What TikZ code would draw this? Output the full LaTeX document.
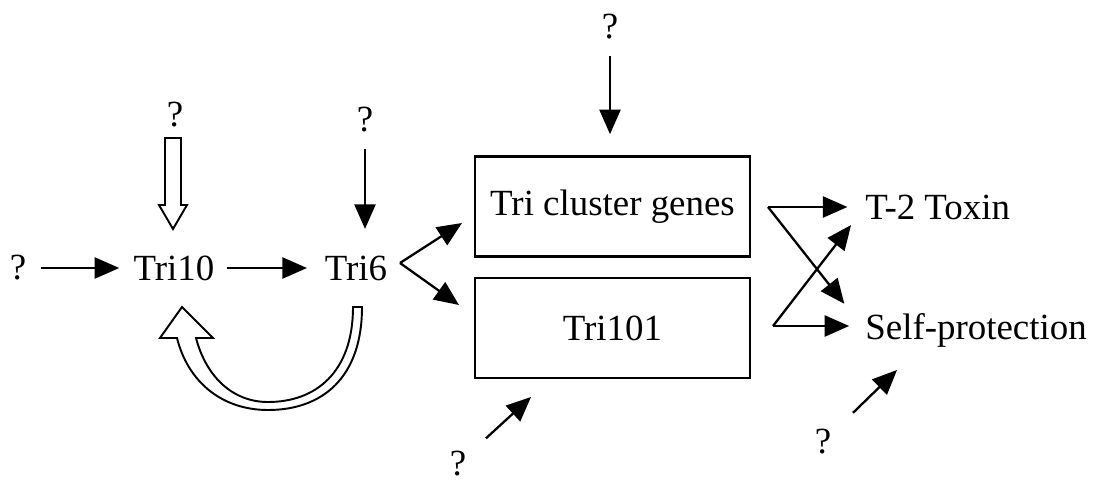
\documentclass[tikz,border=0pt]{standalone}
\usepackage{fontspec}
\setmainfont{Liberation Serif}
\usetikzlibrary{arrows.meta,calc}
\tikzset{
  lbl/.style={inner sep=0pt,font=\fontsize{21}{25}\selectfont},
  genebox/.style={draw,line width=1.4pt,minimum width=5.5cm,minimum height=2cm,inner sep=0pt,font=\fontsize{21}{25}\selectfont},
  arr/.style={line width=1.3pt,-{Triangle[length=14pt,width=12pt]}},
  hollow/.style={draw,line width=1.1pt,fill=white,line join=miter}
}

\begin{document}
\begin{tikzpicture}[x=0.02cm,y=-0.02cm]
\useasboundingbox (0,0) rectangle (1097,483);
% left part
\node[lbl] (q1) at (18,268) {?};
\node[lbl] (tri10) at (174,268) {Tri10};
\node[lbl] (q2) at (175,115) {?};
\node[lbl] (tri6) at (356,268) {Tri6};
\node[lbl] (q3) at (365,120) {?};
% boxes
\node[genebox] (clust) at (612.5,206.5) {Tri cluster genes};
\node[genebox] (tri101) at (612.5,328) {Tri101};
\node[lbl] (q4) at (610,27) {?};
\node[lbl] (q5) at (458,464) {?};
% products
\node[lbl,anchor=west] (toxin) at (865,207) {T-2 Toxin};
\node[lbl,anchor=west] (selfp) at (865,330) {Self-protection};
\node[lbl] (q6) at (823,442) {?};

\coordinate (fork) at (400,263);
\coordinate (in5) at (531,397);
\coordinate (in6) at (897,370);
\coordinate (out1) at (768,207);
\coordinate (out2) at (773,326);

\draw[arr,shorten <=8pt,shorten >=8pt] (q1) -- (tri10);
\draw[arr,shorten <=7pt,shorten >=10pt] (tri10) -- (tri6);
\draw[arr,shorten <=9pt,shorten >=15pt] (q3) -- (q3 |- tri6.north);
\draw[arr] (fork) -- (462,223);
\draw[arr] (fork) -- (459,305);
\draw[arr,shorten <=9pt,shorten >=12pt] (q4) -- (q4 |- clust.north);
\draw[arr,shorten <=15pt] (q5) -- (in5);
\draw[arr,shorten <=17pt] (q6) -- (in6);
\draw[arr,shorten >=10pt] (out1) -- (toxin.west);
\draw[arr,shorten >=19pt] (out1) -- (selfp.west);
\draw[arr,shorten >=9pt] (out2) -- (out2 -| selfp.west);
\draw[arr,shorten >=13pt] (out2) -- (toxin.west);

% hollow arrows
\draw[hollow] (165,138) -- (181,138) -- (181,205) -- (187,205) -- (173,229)
  -- (159,205) -- (165,205) -- cycle;
\draw[hollow] (362,307) .. controls (362,378) and (322,410) .. (268,410)
  .. controls (222,410) and (188,382) .. (177,338) -- (160,338) -- (182,307)
  -- (213,338) -- (196,338) .. controls (206,376) and (232,402) .. (268,402)
  .. controls (316,402) and (353,372) .. (353,307) -- cycle;
\end{tikzpicture}
\end{document}
